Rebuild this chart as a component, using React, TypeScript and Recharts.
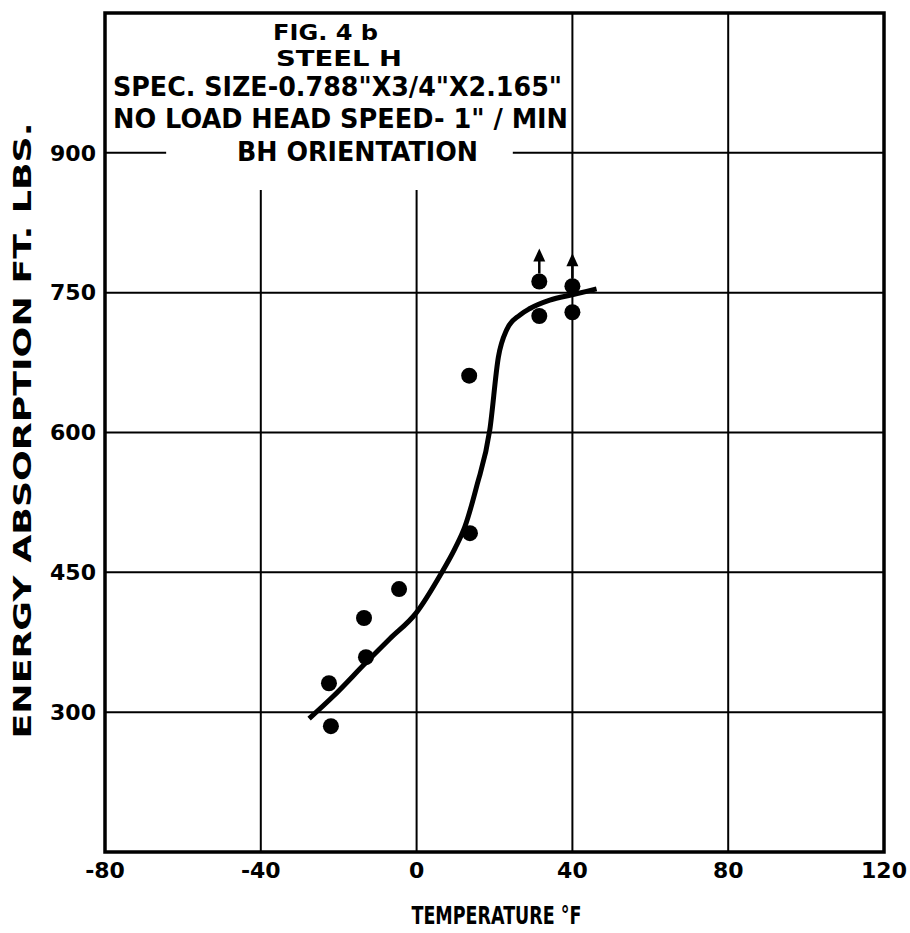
import React from 'react';
import {
  ComposedChart,
  Line,
  Scatter,
  XAxis,
  YAxis,
  CartesianGrid,
  ReferenceArea,
  Label,
} from 'recharts';

// ---- data ----
const xTicks = [-80, -40, 0, 40, 80, 120];
const yTicks = [300, 450, 600, 750, 900];

const pointTemps = [-22.5, -22, -13.5, -13, -4.5, 13.5, 13.7, 31.5, 40];
const pointEnergy = [331, 285, 401, 359, 432, 661, 492, 725, 729];

// specimens that did not break (drawn with an upward arrow)
const arrowTemps = [31.5, 40];
const arrowEnergy = [762, 757];

const curveTemps = [-27.6, -21.4, -12.8, -6.8, -0.2, 6.2, 9.9, 12.4, 15.4, 18.8, 21.0, 23.1, 26.5, 29.1, 34.2, 40.2, 46.2];
const curveEnergy = [293, 317, 354, 379, 406, 448, 476, 499, 542, 603, 681, 710, 726, 733, 742, 748, 754];

const titleLines = [
  'FIG. 4 b',
  'STEEL H',
  'SPEC. SIZE-0.788"X3/4"X2.165"',
  'NO LOAD HEAD SPEED- 1" / MIN',
  'BH ORIENTATION',
];
const xLabel = 'TEMPERATURE °F';
const yLabel = 'ENERGY ABSORPTION FT. LBS.';

// ---- derived tables ----
const points = pointTemps.map((t, i) => ({ t, e: pointEnergy[i] }));
const arrows = arrowTemps.map((t, i) => ({ t, e: arrowEnergy[i] }));
const curve = curveTemps.map((t, i) => ({ t, e: curveEnergy[i] }));

const FONT = '"DejaVu Sans", sans-serif';

// title layout: [x start, baseline, width, fontSize]
const titleLayout = [
  [273, 40, 105, 22],
  [276, 66, 126, 22],
  [113, 96, 449, 26],
  [113, 128, 455, 26],
  [237, 161, 241, 26],
];

const Dot = (props: any) => {
  const { cx, cy } = props;
  if (cx == null || cy == null) return null;
  return <circle cx={cx} cy={cy} r={8} fill="#000" />;
};

const ArrowDot = (props: any) => {
  const { cx, cy } = props;
  if (cx == null || cy == null) return null;
  return (
    <g>
      <circle cx={cx} cy={cy} r={8} fill="#000" />
      <line x1={cx} y1={cy - 8} x2={cx} y2={cy - 22} stroke="#000" strokeWidth={2.5} />
      <polygon points={`${cx},${cy - 33} ${cx - 6},${cy - 20} ${cx + 6},${cy - 20}`} fill="#000" />
    </g>
  );
};

const tickStyle = { fill: '#000', fontSize: 22, fontWeight: 700, fontFamily: FONT };

export default function App() {
  return (
    <div style={{ position: 'absolute', left: 0, top: 0, width: 910, height: 933, background: '#fff' }}>
      <ComposedChart
        width={910}
        height={933}
        margin={{ top: 13, right: 26, bottom: 0, left: 0 }}
      >
        <CartesianGrid stroke="#000" strokeWidth={2} horizontal vertical />
        <XAxis
          type="number"
          dataKey="t"
          domain={[-80, 120]}
          ticks={xTicks}
          allowDataOverflow
          height={81}
          tickLine={false}
          axisLine={false}
          tickSize={0}
          tickMargin={10}
          tick={tickStyle}
          interval={0}
        >
          <Label
            content={(p: any) => {
              const vb = p.viewBox;
              const cx = vb.x + vb.width / 2;
              return (
                <text
                  x={cx - 83}
                  y={924}
                  textLength={170}
                  lengthAdjust="spacingAndGlyphs"
                  fontSize={24}
                  fontWeight={700}
                  fontFamily={FONT}
                  fill="#000"
                >
                  {xLabel}
                </text>
              );
            }}
          />
        </XAxis>
        <YAxis
          type="number"
          dataKey="e"
          domain={[150, 1050]}
          ticks={yTicks}
          allowDataOverflow
          width={105}
          tickLine={false}
          axisLine={false}
          tickSize={0}
          tickMargin={9}
          tick={tickStyle}
          interval={0}
        >
          <Label
            content={(p: any) => {
              const vb = p.viewBox;
              const cy = vb.y + vb.height / 2;
              return (
                <text
                  x={0}
                  y={0}
                  transform={`translate(31, ${cy + 306}) rotate(-90)`}
                  textLength={616}
                  lengthAdjust="spacingAndGlyphs"
                  fontSize={25}
                  fontWeight={700}
                  fontFamily={FONT}
                  fill="#000"
                >
                  {yLabel}
                </text>
              );
            }}
          />
        </YAxis>
        <ReferenceArea
          x1={-64.3}
          x2={24.7}
          y1={860}
          y2={1050}
          fill="#fff"
          fillOpacity={1}
          stroke="none"
          ifOverflow="visible"
        />
        <ReferenceArea
          x1={-80}
          x2={120}
          y1={150}
          y2={1050}
          fill="none"
          fillOpacity={0}
          stroke="#000"
          strokeWidth={3.5}
          ifOverflow="visible"
        />
        <Line
          data={curve}
          dataKey="e"
          type="monotone"
          stroke="#000"
          strokeWidth={5}
          dot={false}
          activeDot={false}
          isAnimationActive={false}
        />
        <Scatter data={points} dataKey="e" shape={Dot} isAnimationActive={false} />
        <Scatter data={arrows} dataKey="e" shape={ArrowDot} isAnimationActive={false} />
      </ComposedChart>
      <svg
        width={910}
        height={933}
        style={{ position: 'absolute', left: 0, top: 0, pointerEvents: 'none' }}
      >
        {titleLines.map((s, i) => {
          const [x, y, w, fs] = titleLayout[i];
          return (
            <text
              key={i}
              x={x}
              y={y}
              textLength={w}
              lengthAdjust="spacingAndGlyphs"
              fontSize={fs}
              fontWeight={700}
              fontFamily={FONT}
              fill="#000"
            >
              {s}
            </text>
          );
        })}
      </svg>
    </div>
  );
}
